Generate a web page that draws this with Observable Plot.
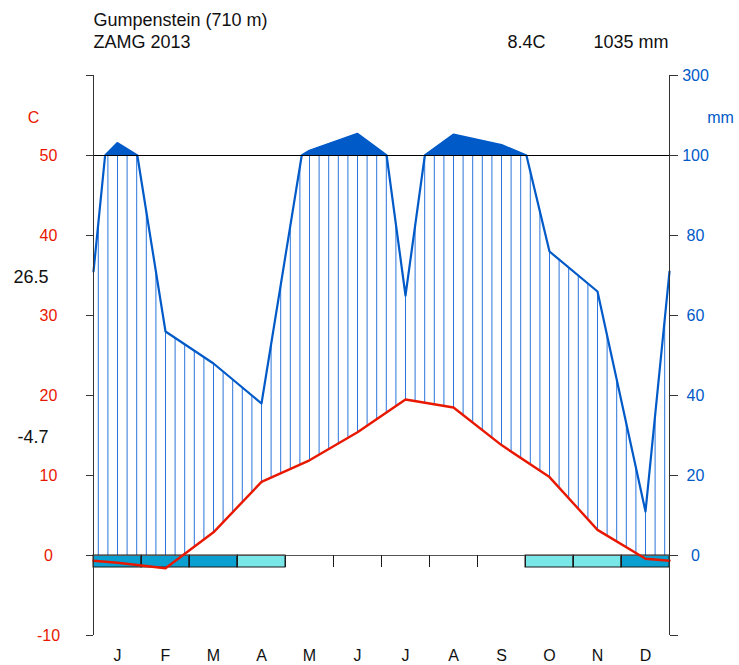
<!DOCTYPE html>
<html>
<head>
<meta charset="utf-8">
<script src="https://cdn.jsdelivr.net/npm/d3@7"></script>
<script src="https://cdn.jsdelivr.net/npm/@observablehq/plot@0.6"></script>
<style>
  body { margin: 0; background: #fff; }
  #chart svg { display: block; }
</style>
</head>
<body>
<div id="chart"></div>
<script>
// Walter–Lieth climate diagram, Gumpenstein
const station = "Gumpenstein (710 m)";
const source = "ZAMG 2013";
const meanTempLabel = "8.4C";
const totalPrecipLabel = "1035 mm";
const absMaxLabel = "26.5";
const absMinLabel = "-4.7";

const months = ["J", "F", "M", "A", "M", "J", "J", "A", "S", "O", "N", "D"];
// monthly mean temperature (°C)
const temperature = [-0.9, -1.6, 2.9, 9.2, 11.9, 15.4, 19.5, 18.5, 13.8, 9.8, 3.2, -0.4];
// monthly precipitation (mm)
const precipitation = [131, 56, 48, 38, 112, 154, 65, 152, 126, 76, 66, 11];
// frost: "sure" = mean daily minimum below 0, "probable" = absolute minimum below 0
const frost = ["sure", "sure", "sure", "probable", null, null, null, null, null, "probable", "probable", "sure"];

const tempTicks = [-10, 0, 10, 20, 30, 40, 50, 60];
const precipTicks = [0, 20, 40, 60, 80, 100, 300];

const tcol = "#e81800", pcol = "#005ac8", hcol = "#2a74dc", sfcol = "#09a0d1", pfcol = "#79e6e8";
const font = "Arial, 'Liberation Sans', Helvetica, sans-serif";

// precipitation in mm -> temperature-axis units (1:2 up to 100 mm, 1:20 above)
const pScale = mm => mm <= 100 ? mm / 2 : 50 + (mm - 100) / 20;

// curves run from the year edge (Dec/Jan mean) through the month centres
const edgeT = (temperature[0] + temperature[11]) / 2;
const edgeP = (precipitation[0] + precipitation[11]) / 2;
const tNodes = [{x: 0, v: edgeT}, ...temperature.map((v, i) => ({x: i + 0.5, v})), {x: 12, v: edgeT}];
const pNodes = [{x: 0, v: edgeP}, ...precipitation.map((v, i) => ({x: i + 0.5, v})), {x: 12, v: edgeP}];

// split precipitation segments where they cross 100 mm
const pLine = [];
pNodes.forEach((a, i) => {
  pLine.push(a);
  const b = pNodes[i + 1];
  if (b && (a.v - 100) * (b.v - 100) < 0) {
    pLine.push({x: a.x + (100 - a.v) / (b.v - a.v) * (b.x - a.x), v: 100});
  }
});

const lerp = (nodes, x) => {
  for (let i = 0; i < nodes.length - 1; i++) {
    const a = nodes[i], b = nodes[i + 1];
    if (x >= a.x && x <= b.x) return a.v + (b.v - a.v) * (x - a.x) / (b.x - a.x);
  }
  return nodes[nodes.length - 1].v;
};

// vertical hatching of the humid period
const hatch = d3.range(60).map(k => 0.1 + 0.2 * k).map(x => ({
  x,
  t: lerp(tNodes, x),
  p: Math.min(50, pScale(lerp(pNodes, x)))
})).filter(d => d.p > d.t);

const frostBoxes = frost.map((f, i) => ({i, f})).filter(d => d.f);

const chart = Plot.plot({
  width: 739,
  height: 665,
  marginLeft: 93,
  marginRight: 70,
  marginTop: 75,
  marginBottom: 30,
  style: {fontFamily: font, fontSize: "16px", background: "#fff"},
  x: {domain: [0, 12], label: null},
  y: {domain: [-10, 60], label: null},
  marks: [
    Plot.ruleX(hatch, {x: "x", y1: "t", y2: "p", stroke: hcol, strokeWidth: 1}),
    Plot.areaY(pLine, {x: "x", y1: 50, y2: d => Math.max(50, pScale(d.v)), fill: pcol}),
    Plot.line(pLine, {x: "x", y: d => pScale(d.v), stroke: pcol, strokeWidth: 2.2}),
    Plot.ruleY([50], {x1: 0, x2: 12, stroke: "#000", strokeWidth: 1}),
    Plot.rect(frostBoxes, {
      x1: d => d.i, x2: d => d.i + 1, y1: -1.5, y2: 0,
      fill: d => d.f === "sure" ? sfcol : pfcol,
      stroke: "#1a1a1a", strokeWidth: 1
    }),
    Plot.ruleY([0], {x1: 0, x2: 12, stroke: "#555", strokeWidth: 1}),
    Plot.ruleX(d3.range(1, 12), {y1: -1.5, y2: 0, stroke: "#1a1a1a", strokeWidth: 1}),
    Plot.line(tNodes, {x: "x", y: "v", stroke: tcol, strokeWidth: 2.4}),
    // frame sides
    Plot.ruleX([0, 12], {y1: -10, y2: 60, stroke: "#333", strokeWidth: 1}),
    // left (temperature) axis
    Plot.axisY({
      anchor: "left", ticks: tempTicks, tickSize: 7, tickPadding: 38, label: null,
      tickFormat: d => d === 60 ? "" : d,
      stroke: "#333", fill: tcol, textAnchor: "middle", fontSize: 16
    }),
    // right (precipitation) axis
    Plot.axisY({
      anchor: "right", ticks: [-10, ...precipTicks.map(pScale)], tickSize: 8, tickPadding: 18, label: null,
      tickFormat: v => { const m = precipTicks.find(p => pScale(p) === v); return m === undefined ? "" : m; },
      stroke: "#333", fill: pcol, textAnchor: "middle", fontSize: 16
    }),
    // month letters
    Plot.axisX({
      anchor: "bottom", ticks: months.map((m, i) => i + 0.5), tickSize: 0, tickPadding: 14, label: null,
      tickFormat: v => months[Math.floor(v)], fill: "#111", fontSize: 16
    }),
    // headings
    Plot.text([station], {frameAnchor: "top-left", dy: -55, textAnchor: "start", lineAnchor: "middle", fontSize: 18, fill: "#111"}),
    Plot.text([source], {frameAnchor: "top-left", dy: -33, textAnchor: "start", lineAnchor: "middle", fontSize: 18, fill: "#111"}),
    Plot.text([meanTempLabel], {frameAnchor: "top-right", dx: -124, dy: -33, textAnchor: "end", lineAnchor: "middle", fontSize: 18, fill: "#111"}),
    Plot.text([totalPrecipLabel], {frameAnchor: "top-right", dx: -1, dy: -33, textAnchor: "end", lineAnchor: "middle", fontSize: 18, fill: "#111"}),
    // axis units
    Plot.text(["C"], {frameAnchor: "top-left", dx: -60, dy: 42, textAnchor: "middle", lineAnchor: "middle", fontSize: 16, fill: tcol}),
    Plot.text(["mm"], {frameAnchor: "top-right", dx: 51, dy: 42, textAnchor: "middle", lineAnchor: "middle", fontSize: 16, fill: pcol}),
    // absolute extremes
    Plot.text([absMaxLabel], {frameAnchor: "left", dx: -45, dy: -78, textAnchor: "end", lineAnchor: "middle", fontSize: 18, fill: "#111"}),
    Plot.text([absMinLabel], {frameAnchor: "left", dx: -45, dy: 82, textAnchor: "end", lineAnchor: "middle", fontSize: 18, fill: "#111"})
  ]
});

document.getElementById("chart").append(chart);
</script>
</body>
</html>
